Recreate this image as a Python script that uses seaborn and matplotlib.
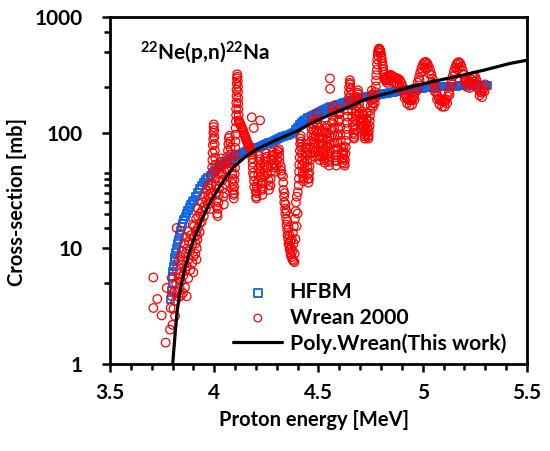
import numpy as np
import matplotlib
matplotlib.use('Agg')
import matplotlib.pyplot as plt
from matplotlib.ticker import FixedLocator, FuncFormatter, NullFormatter
import seaborn as sns

# --- HFBM calculation (blue squares) ---
# points close to threshold
hfbm_e_start = [3.792, 3.795, 3.798, 3.800, 3.802, 3.805, 3.808, 3.811, 3.815, 3.819,
                3.823, 3.827, 3.832, 3.837, 3.842, 3.848, 3.854, 3.860, 3.867, 3.874,
                3.881, 3.888, 3.895]
hfbm_xs_start = [3.6, 4.3, 5.0, 5.7, 6.3, 7.0, 7.7, 8.4, 9.2, 10.0,
                 11.0, 12.0, 13.2, 14.3, 15.4, 16.5, 17.7, 18.8, 20.0, 21.3,
                 22.6, 24.0, 25.3]
# then a 10 keV grid from 3.90 to 5.31 MeV
hfbm_e_grid = np.round(np.arange(390, 532) / 100, 2)
hfbm_xs_grid = [26, 28, 30.5, 33, 35, 37, 39, 41, 43,
                45, 47, 48.5, 50, 51.5, 53, 55, 56.5, 58, 59.5,
                61, 62.5, 64, 65, 66, 67, 68.5, 69.5, 70.5, 72,
                73, 74, 75, 76, 77.5, 78.5, 80, 81.5, 83, 84.5,
                86, 88, 89.5, 91, 92.5, 94, 95, 97, 98.5, 100,
                106, 112, 117, 122, 127, 131, 135, 138, 141, 144,
                147, 150, 153, 156, 159, 162, 165, 167.5, 170, 172.5,
                175, 177, 179, 181, 183.5, 186, 188, 190.5, 193, 195,
                197.5, 200, 201.5, 203, 204.5, 206, 207.5, 209, 210.5, 212,
                213.5, 215, 217, 218.5, 220, 222, 223.5, 225, 227, 228.5,
                230, 232, 233, 234.5, 235.5, 237, 238, 239, 240.5, 241.5,
                243, 244, 245, 245.5, 246.5, 247, 248, 248.5, 249, 250,
                250.5, 251, 251.5, 252, 252.5, 253, 253, 253.5, 254, 254,
                254.5, 255, 255, 255.5, 255.5, 256, 256, 256, 256.5, 256.5,
                257, 257, 257]

# --- Wrean 2000 measurement (red circles) ---
# threshold and rising part
wr1_e = [3.708, 3.727, 3.708, 3.748, 3.772, 3.791, 3.800, 3.788, 3.767, 3.796, 3.796, 3.805, 3.810, 3.812,
         3.815, 3.817, 3.820, 3.820, 3.822, 3.828, 3.828, 3.830, 3.835, 3.836, 3.838, 3.840, 3.842, 3.843, 3.845,
         3.850, 3.851, 3.853, 3.855, 3.860, 3.861, 3.862, 3.864, 3.868, 3.869, 3.870, 3.875, 3.876, 3.877, 3.878,
         3.885, 3.886, 3.887, 3.895, 3.896, 3.897, 3.900, 3.901, 3.902, 3.903, 3.910, 3.911, 3.912, 3.913, 3.915, 3.916, 3.917,
         3.920, 3.921, 3.922, 3.923, 3.930, 3.931, 3.932, 3.940, 3.941, 3.942, 3.950, 3.951, 3.952, 3.960, 3.961, 3.962,
         3.970, 3.971, 3.972, 3.980, 3.981, 3.982]
wr1_xs = [5.6, 3.65, 3.05, 2.63, 4.55, 3.05, 2.18, 1.98, 1.53, 5.55, 3.85, 3.0, 4.2, 2.6,
          3.5, 5.0, 6.6, 15.0, 4.2, 7.8, 5.5, 3.8, 4.5, 6.0, 8.5, 3.9, 5.2, 7.2, 9.5,
          4.1, 5.8, 7.8, 11, 4.6, 6.5, 9.0, 12.5, 3.85, 7.0, 10, 5.5, 8.0, 11.5, 14,
          6.5, 9.5, 13, 7.5, 11, 16, 6.2, 8.5, 12.5, 15.5, 9.0, 11, 14, 18, 8.0, 10, 13,
          12, 15, 19, 22, 13.8, 16.5, 20, 17, 21, 25, 19, 23, 28, 21.9, 26, 32,
          24, 29, 35, 21.9, 27, 33]
# resonances around 4.0 - 4.2 MeV
wr2_e = [3.985, 3.986, 3.987, 3.990, 3.991, 3.992, 3.993, 3.995, 3.996, 3.997, 3.998,
         4.000, 4.001, 4.002, 4.003, 4.004, 4.005, 4.006, 4.007, 4.008, 4.009,
         4.010, 4.012, 4.014, 4.016, 4.018, 4.020, 4.022, 4.024, 4.026, 4.028, 4.030, 4.032, 4.034,
         4.036, 4.038, 4.040, 4.042, 4.044, 4.046,
         4.050, 4.052, 4.054, 4.058, 4.060, 4.062, 4.066, 4.068, 4.070, 4.074, 4.076, 4.078, 4.080,
         4.082, 4.084, 4.086, 4.088, 4.090, 4.092, 4.093, 4.094,
         4.095, 4.096, 4.097, 4.098, 4.100, 4.100, 4.101, 4.101, 4.102, 4.102, 4.103,
         4.104, 4.105, 4.105, 4.106, 4.107, 4.107, 4.108, 4.109, 4.110, 4.112, 4.113,
         4.114, 4.114, 4.115, 4.115, 4.116, 4.117, 4.118,
         4.120, 4.123, 4.126, 4.129, 4.132, 4.135, 4.138, 4.141, 4.144, 4.147, 4.150,
         4.153, 4.156, 4.159, 4.162, 4.165, 4.168, 4.171, 4.174, 4.177, 4.180,
         4.180, 4.220, 4.190]
wr2_xs = [30, 36, 43, 50, 58, 67, 78, 88, 100, 112, 118,
          105, 92, 80, 70, 61, 53, 46, 40, 35, 30,
          26, 23, 20, 19, 22, 25, 29, 33, 38, 44, 50, 56, 60,
          52, 45, 39, 33, 28, 24,
          30, 36, 42, 48, 54, 62, 70, 80, 90, 94, 84, 74, 65,
          57, 50, 44, 40, 36, 32, 29, 27,
          30, 34, 39, 44, 50, 57, 65, 74, 84, 96, 110,
          125, 142, 160, 182, 207, 235, 265, 295, 320, 305, 280,
          250, 225, 200, 180, 160, 142, 128,
          124, 121, 118, 114, 111, 108, 105, 101, 97, 94, 91,
          88, 85, 82, 80, 78, 76, 74, 72, 70, 68,
          136, 128, 110]
# cluster and deep minimum 4.18 - 4.40 MeV
wr3_e = [4.182, 4.183, 4.184, 4.185, 4.186, 4.190, 4.191, 4.192,
         4.200, 4.201, 4.202, 4.203, 4.204, 4.210, 4.211, 4.212, 4.213, 4.214,
         4.220, 4.221, 4.222, 4.223, 4.224, 4.230, 4.231, 4.232, 4.233,
         4.240, 4.241, 4.242, 4.243, 4.250, 4.251, 4.252, 4.253, 4.254, 4.260, 4.261, 4.262,
         4.270, 4.271, 4.272, 4.273, 4.274, 4.280, 4.281, 4.282, 4.283, 4.290, 4.291, 4.292,
         4.300, 4.301, 4.302, 4.303, 4.310, 4.311, 4.312, 4.313, 4.320, 4.321, 4.322,
         4.330, 4.331, 4.332, 4.335, 4.336, 4.337, 4.340, 4.341, 4.342, 4.345, 4.346, 4.347,
         4.350, 4.351, 4.352, 4.355, 4.356, 4.357, 4.360, 4.361, 4.362, 4.365, 4.366, 4.367,
         4.370, 4.371, 4.372, 4.375, 4.376, 4.377, 4.380, 4.381, 4.382, 4.385, 4.386, 4.387,
         4.390, 4.391, 4.392, 4.395, 4.396, 4.400, 4.401]
wr3_xs = [65, 60, 55, 50, 45, 42, 38, 34,
          31, 28, 27, 30, 34, 38, 43, 49, 56, 63,
          59, 52, 46, 41, 36, 32, 29, 33, 37,
          42, 47, 53, 60, 66, 62, 57, 50, 44, 39, 35, 32,
          35, 40, 46, 52, 59, 64, 68, 63, 58, 54, 50, 46,
          52, 58, 65, 70, 72, 68, 62, 56, 51, 47, 44,
          42, 37, 32, 28, 25, 30, 22, 20, 24, 18, 21, 16,
          14.5, 17, 13, 12, 15, 11, 10.5, 13, 9.8, 11.5, 9.2, 8.8,
          10, 8.4, 12, 8.0, 9.5, 13.5, 7.8, 11, 15.5, 7.6, 9.0, 18,
          12, 21, 25, 15.5, 28, 20, 30.6]
# oscillations 4.40 - 4.62 MeV
wr4_e = [4.405, 4.406, 4.407, 4.408, 4.410, 4.411, 4.412, 4.413,
         4.415, 4.416, 4.417, 4.420, 4.421, 4.422, 4.425, 4.426, 4.427,
         4.430, 4.431, 4.432, 4.435, 4.436, 4.437, 4.440, 4.441, 4.442,
         4.445, 4.446, 4.447, 4.450, 4.451, 4.452, 4.455, 4.456, 4.457,
         4.460, 4.461, 4.462, 4.465, 4.466, 4.467, 4.470, 4.471, 4.472,
         4.475, 4.476, 4.477, 4.480, 4.481, 4.482, 4.485, 4.486, 4.487,
         4.490, 4.491, 4.492, 4.495, 4.496, 4.497, 4.500, 4.501, 4.502,
         4.505, 4.506, 4.510, 4.511, 4.512, 4.515, 4.516, 4.517,
         4.520, 4.521, 4.522, 4.525, 4.526, 4.527, 4.530, 4.531, 4.532,
         4.535, 4.536, 4.537, 4.540, 4.541, 4.542, 4.545, 4.546, 4.547,
         4.550, 4.551, 4.552, 4.555, 4.556, 4.555, 4.556,
         4.560, 4.561, 4.562, 4.565, 4.566, 4.567, 4.570, 4.571, 4.572,
         4.575, 4.576, 4.577, 4.580, 4.581, 4.582, 4.585, 4.586, 4.587,
         4.590, 4.591, 4.592, 4.595, 4.596, 4.597, 4.600, 4.601, 4.602,
         4.605, 4.606, 4.607, 4.610, 4.611, 4.612, 4.615, 4.616, 4.617]
wr4_xs = [35, 40, 46, 53, 61, 70, 80, 89,
          94, 84, 75, 66, 58, 52, 46, 42, 38,
          40, 44, 49, 55, 61, 68, 74, 80, 72,
          64, 57, 50, 44, 40, 37, 40, 45, 51,
          58, 66, 75, 85, 96, 108, 120, 132, 118,
          104, 92, 83, 75, 68, 62, 70, 80, 92,
          105, 120, 146, 130, 115, 100, 88, 78, 70,
          64, 58, 62, 70, 80, 92, 105, 115,
          102, 90, 80, 72, 65, 58, 55, 60, 68,
          76, 86, 98, 110, 115, 100, 88, 76, 66,
          58, 52, 56, 62, 70, 295, 240,
          80, 92, 106, 122, 140, 160, 170, 150, 128,
          110, 95, 82, 72, 64, 58, 52, 57, 64,
          72, 82, 94, 108, 125, 145, 162, 150, 130,
          112, 97, 85, 74, 66, 59, 55, 60, 68]
# 4.62 - 4.82 MeV including the large peak
wr5_e = [4.620, 4.621, 4.622, 4.625, 4.626, 4.627, 4.630, 4.631, 4.632,
         4.635, 4.636, 4.637, 4.640, 4.641, 4.642, 4.645, 4.646, 4.647,
         4.650, 4.651, 4.652, 4.655, 4.656, 4.657, 4.660, 4.661, 4.662,
         4.665, 4.666, 4.667, 4.670, 4.671, 4.672, 4.675, 4.676, 4.677,
         4.680, 4.681, 4.682, 4.685, 4.686, 4.687, 4.690, 4.691, 4.692,
         4.695, 4.696, 4.697, 4.700, 4.701, 4.702, 4.705, 4.706, 4.707,
         4.710, 4.711, 4.712, 4.715, 4.716, 4.717, 4.720, 4.721, 4.722,
         4.725, 4.726, 4.727, 4.730, 4.731, 4.732, 4.735, 4.736, 4.737,
         4.740, 4.741, 4.742, 4.745, 4.746, 4.747, 4.750, 4.751, 4.752,
         4.755, 4.756, 4.757, 4.760, 4.761, 4.762, 4.770, 4.771, 4.772,
         4.775, 4.776, 4.777, 4.780, 4.781, 4.782, 4.785, 4.786, 4.787,
         4.790, 4.792, 4.794, 4.797, 4.799, 4.801, 4.803, 4.805, 4.807,
         4.809, 4.811, 4.813, 4.815, 4.817, 4.819, 4.821, 4.823]
wr5_xs = [76, 68, 60, 54, 52, 58, 66, 75, 85,
          96, 108, 122, 138, 156, 176, 198, 222, 248,
          270, 285, 262, 238, 214, 192, 172, 154, 138,
          124, 112, 100, 92, 89, 97, 106, 116, 128,
          140, 154, 170, 186, 204, 222, 233, 215, 196,
          178, 162, 147, 134, 122, 110, 108, 115, 124,
          132, 142, 152, 145, 128, 114, 102, 93, 89,
          96, 106, 118, 132, 148, 128, 112, 100, 92,
          89, 95, 104, 114, 126, 140, 155, 172, 190,
          210, 232, 214, 196, 180, 168, 180, 200, 225,
          252, 282, 315, 350, 390, 430, 465, 495, 515,
          530, 535, 528, 512, 490, 465, 442, 418, 395,
          375, 355, 336, 318, 302, 292, 286, 282]
# oscillating tail 4.826 - 5.300 MeV (6 keV steps) ...
wr6_e = np.linspace(4.826, 5.300, 80)
wr6_xs = [296, 305, 312, 316, 314, 308, 302, 298, 296, 294,
          290, 282, 268, 250, 232, 215, 203, 196, 192, 190,
          191, 196, 206, 222, 245, 272, 300, 330, 360, 385,
          402, 410, 406, 392, 370, 345, 318, 292, 266, 242,
          222, 208, 198, 192, 188, 186, 186, 188, 194, 206,
          225, 250, 278, 308, 340, 368, 390, 404, 408, 398,
          375, 345, 318, 296, 280, 270, 268, 275, 290, 305,
          312, 304, 285, 262, 240, 226, 222, 230, 245, 262]
# ... and the lower edge of that band (12 keV steps)
wr7_e = np.linspace(4.829, 5.297, 40)
wr7_xs = [270, 283, 280, 270, 266, 257, 233, 201, 180, 172,
          174, 193, 233, 284, 335, 365, 359, 322, 275, 229,
          194, 176, 168, 168, 180, 214, 264, 319, 357, 363,
          324, 276, 248, 244, 268, 277, 246, 210, 203, 228]

# --- polynomial fit to Wrean data (black line) ---
poly_e = [3.800, 3.805, 3.810, 3.815, 3.823, 3.833, 3.844, 3.857, 3.871, 3.890,
          3.916, 3.945, 3.980, 4.030, 4.090, 4.150, 4.204, 4.300, 4.400, 4.470,
          4.550, 4.650, 4.710, 4.800, 4.950, 5.050, 5.190, 5.300, 5.420, 5.500]
poly_xs = [0.95, 1.25, 1.6, 2.1, 2.95, 3.9, 5.0, 6.5, 8.0, 10.5,
           13.8, 18.5, 25, 35, 50, 62, 72, 87, 104, 122,
           142, 168, 190, 212, 251, 278, 314, 350, 398, 424]

hfbm_e = list(hfbm_e_start) + list(hfbm_e_grid)
hfbm_xs = hfbm_xs_start + hfbm_xs_grid
wrean_e = wr1_e + wr2_e + wr3_e + wr4_e + wr5_e + list(wr6_e) + list(wr7_e)
wrean_xs = wr1_xs + wr2_xs + wr3_xs + wr4_xs + wr5_xs + wr6_xs + wr7_xs

BLUE = '#0a64e6'
RED = '#ff0000'

sns.set_theme(style='white')
plt.rcParams['font.family'] = ['Lato', 'DejaVu Sans']
plt.rcParams['font.weight'] = 'bold'
plt.rcParams.update({'text.color': 'black', 'axes.labelcolor': 'black',
                     'xtick.color': 'black', 'ytick.color': 'black',
                     'axes.labelweight': 'bold',
                     'mathtext.fontset': 'custom', 'mathtext.default': 'regular',
                     'mathtext.rm': 'Lato:bold', 'mathtext.bf': 'Lato:bold'})

fig = plt.figure(figsize=(5.5, 4.51), dpi=100)
ax = fig.add_axes([0.2, 0.193, 0.758, 0.769])
ax.set_yscale('log')

sns.scatterplot(x=hfbm_e, y=hfbm_xs, marker='s', s=26, ax=ax, label='HFBM', zorder=2)
c = ax.collections[-1]
c.set_facecolor('none')
c.set_edgecolor(BLUE)
c.set_linewidth(1.3)

sns.scatterplot(x=wrean_e, y=wrean_xs, marker='o', s=38, ax=ax, label='Wrean 2000', zorder=3)
c = ax.collections[-1]
c.set_facecolor('none')
c.set_edgecolor(RED)
c.set_linewidth(0.9)

sns.lineplot(x=poly_e, y=poly_xs, color='black', lw=2.3, ax=ax,
             label='Poly.Wrean(This work)', zorder=4)

ax.set_xlim(3.5, 5.5)
ax.set_ylim(1, 1000)

ax.xaxis.set_major_locator(FixedLocator([3.5, 4.0, 4.5, 5.0, 5.5]))
ax.xaxis.set_minor_locator(FixedLocator(np.round(np.arange(35, 56) / 10, 1)))
ax.xaxis.set_major_formatter(FuncFormatter(lambda v, p: '{:g}'.format(v)))
ax.yaxis.set_major_locator(FixedLocator([1, 10, 100, 1000]))
ax.yaxis.set_minor_locator(FixedLocator([5, 15, 20, 25, 30, 35, 40, 45, 250, 500, 750]))
ax.yaxis.set_major_formatter(FuncFormatter(lambda v, p: '{:g}'.format(v)))
ax.yaxis.set_minor_formatter(NullFormatter())

ax.tick_params(axis='both', which='both', direction='out', bottom=True, left=True,
               top=False, right=False, width=1.8, color='black')
ax.tick_params(which='major', length=6, labelsize=15)
ax.tick_params(which='minor', length=4.5)
ax.tick_params(axis='y', which='major', pad=14)
ax.tick_params(axis='x', which='major', pad=8)

for s in ax.spines.values():
    s.set_linewidth(2.0)
    s.set_color('black')

ax.set_xlabel('Proton energy [MeV]', fontsize=14.5)
ax.set_ylabel('Cross-section [mb]', fontsize=14.5)
ax.yaxis.set_label_coords(-0.199, 0.467)
ax.xaxis.set_label_coords(0.49, -0.133)

ax.text(0.072, 0.876, r'$^{22}$Ne(p,n)$^{22}$Na', transform=ax.transAxes, fontsize=15,
        fontweight='bold', va='baseline')

leg = ax.legend(loc='lower right', bbox_to_anchor=(0.95, 0.03), frameon=False,
                fontsize=15.3, handlelength=2.3, handletextpad=0.35, labelspacing=0.25,
                borderaxespad=0, borderpad=0)
leg.legend_handles[0].set_sizes([34])
leg.legend_handles[1].set_sizes([30])

fig.savefig('out.png', dpi=100)
